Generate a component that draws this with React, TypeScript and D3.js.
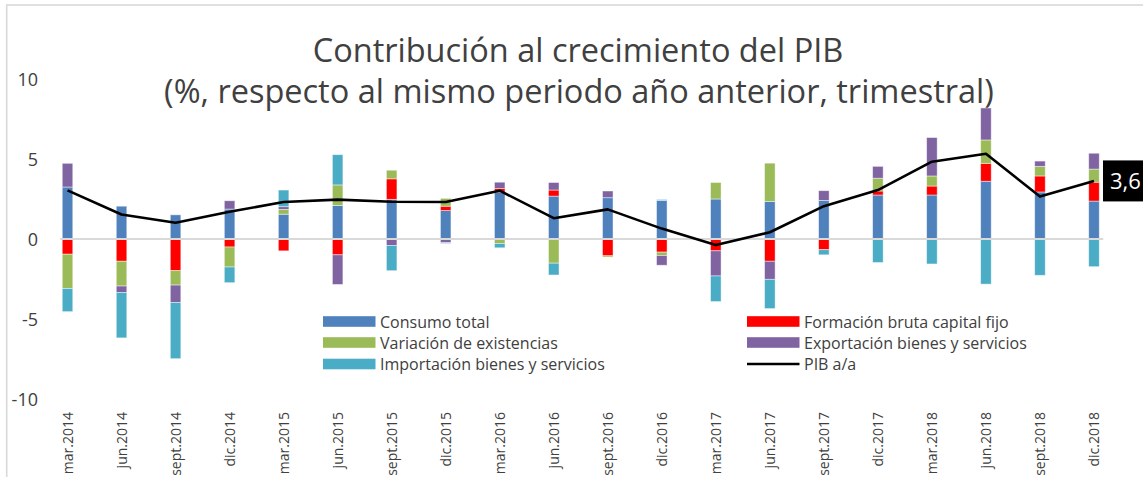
import React from "react";
import * as d3 from "d3";

const categories = [
  "mar.2014", "jun.2014", "sept.2014", "dic.2014",
  "mar.2015", "jun.2015", "sept.2015", "dic.2015",
  "mar.2016", "jun.2016", "sept.2016", "dic.2016",
  "mar.2017", "jun.2017", "sept.2017", "dic.2017",
  "mar.2018", "jun.2018", "sept.2018", "dic.2018",
];

const consumoTotal = [3.25, 2.05, 1.51, 1.87, 1.55, 2.1, 2.48, 1.78, 2.9, 2.68, 2.58, 2.41, 2.5, 2.35, 2.41, 2.75, 2.75, 3.61, 2.94, 2.37];
const formacionBruta = [-0.95, -1.39, -1.98, -0.5, -0.74, -0.99, 1.28, 0.27, 0.25, 0.38, -1.05, -0.82, -0.74, -1.39, -0.67, 0.25, 0.56, 1.12, 1.0, 1.18];
const variacionExistencias = [-2.14, -1.55, -0.9, -1.25, 0.3, 1.28, 0.54, 0.49, -0.28, -1.51, -0.08, -0.21, 1.03, 2.39, 0, 0.8, 0.63, 1.46, 0.6, 0.82];
const exportacion = [1.48, -0.4, -1.09, 0.52, 0.17, -1.85, -0.4, -0.23, 0.4, 0.47, 0.42, -0.61, -1.57, -1.13, 0.61, 0.74, 2.4, 2.0, 0.33, 0.99];
const importacion = [-1.45, -2.84, -3.51, -0.98, 1.04, 1.89, -1.58, -0.05, -0.27, -0.74, 0, 0.06, -1.6, -1.83, -0.32, -1.47, -1.56, -2.82, -2.27, -1.73];
const pibAA = [3.04, 1.53, 1.01, 1.7, 2.31, 2.46, 2.33, 2.31, 3.02, 1.3, 1.85, 0.65, -0.38, 0.42, 2.05, 3.06, 4.83, 5.33, 2.65, 3.63];

const yTicks = [-10, -5, 0, 5, 10];

const seriesKeys = ["consumo", "fbcf", "variacion", "exportacion", "importacion"];
const seriesLabels = [
  "Consumo total",
  "Formación bruta capital fijo",
  "Variación de existencias",
  "Exportación bienes y servicios",
  "Importación bienes y servicios",
];
const seriesColors = ["#4f81bd", "#ff0000", "#9bbb59", "#8064a2", "#4bacc6"];
const lineLabel = "PIB a/a";

const titleLine1 = "Contribución al crecimiento del PIB";
const titleLine2 = "(%, respecto al mismo periodo año anterior, trimestral)";

const FONT = "'Open Sans', 'DejaVu Sans', sans-serif";
const TEXT = "#404040";

export default function App() {
  const W = 1143;
  const H = 477;

  const x = d3
    .scaleBand<string>()
    .domain(categories)
    .range([40.5, 1121])
    .paddingInner(0.805)
    .paddingOuter(0.4025);
  const y = d3.scaleLinear().domain([-10, 10]).range([399, 79]);

  const table = categories.map((c, i) => ({
    cat: c,
    consumo: consumoTotal[i],
    fbcf: formacionBruta[i],
    variacion: variacionExistencias[i],
    exportacion: exportacion[i],
    importacion: importacion[i],
  }));

  const stacked = d3
    .stack<any>()
    .keys(seriesKeys)
    .offset(d3.stackOffsetDiverging)(table);

  const cx = (c: string) => (x(c) as number) + x.bandwidth() / 2;

  const line = d3
    .line<number>()
    .x((_, i) => cx(categories[i]))
    .y((d) => y(d));

  const lastCat = categories[categories.length - 1];
  const lastVal = pibAA[pibAA.length - 1];
  const lx = cx(lastCat);
  const ly = y(lastVal);

  const legendItems = [
    { label: seriesLabels[0], color: seriesColors[0], type: "rect" },
    { label: seriesLabels[1], color: seriesColors[1], type: "rect" },
    { label: seriesLabels[2], color: seriesColors[2], type: "rect" },
    { label: seriesLabels[3], color: seriesColors[3], type: "rect" },
    { label: seriesLabels[4], color: seriesColors[4], type: "rect" },
    { label: lineLabel, color: "#000", type: "line" },
  ];
  const legendColX = [323, 747];
  const legendRowY = [321.5, 342.5, 364];

  return (
    <svg
      width={W}
      height={H}
      style={{ position: "absolute", left: 0, top: 0, background: "#fff" }}
      fontFamily={FONT}
    >
      <rect x={0} y={0} width={W} height={H} fill="#fff" />
      {/* chart border */}
      <rect x={6.7} y={5} width={W + 20} height={H + 20} fill="none" stroke="#d9d9d9" strokeWidth={1.6} />

      {/* title */}
      <text x={578} y={62} textAnchor="middle" fontSize={32.5} fill={TEXT}>
        {titleLine1}
      </text>
      <text x={579} y={103} textAnchor="middle" fontSize={32.5} fill={TEXT}>
        {titleLine2}
      </text>

      {/* y axis labels */}
      {yTicks.map((t) => (
        <text
          key={t}
          x={38}
          y={y(t)}
          textAnchor="end"
          dominantBaseline="central"
          fontSize={18}
          fill={TEXT}
        >
          {t}
        </text>
      ))}

      {/* bars */}
      {stacked.map((s, si) => (
        <g key={s.key} fill={seriesColors[si]}>
          {s.map((d, i) => {
            const y0 = y(d[0]);
            const y1 = y(d[1]);
            const h = Math.abs(y0 - y1);
            if (h < 0.01) return null;
            return (
              <rect
                key={i}
                x={x(categories[i])}
                y={Math.min(y0, y1)}
                width={x.bandwidth()}
                height={h}
                stroke="#ffffff"
                strokeOpacity={0.55}
                strokeWidth={0.8}
              />
            );
          })}
        </g>
      ))}

      {/* zero line */}
      <line
        x1={(x(categories[0]) as number) - 2}
        x2={(x(lastCat) as number) + x.bandwidth() + 4}
        y1={y(0)}
        y2={y(0)}
        stroke="#d9d9d9"
        strokeWidth={1.8}
      />

      {/* PIB line */}
      <path d={line(pibAA) || ""} fill="none" stroke="#000" strokeWidth={2.6} strokeLinejoin="round" />

      {/* data label */}
      <rect x={lx + 9} y={ly - 20.5} width={60} height={41} fill="#000" />
      <text x={lx + 16} y={ly + 8.5} fontSize={22} fill="#fff">
        {d3.format(".1f")(lastVal).replace(".", ",")}
      </text>

      {/* x axis labels */}
      {categories.map((c) => (
        <text
          key={c}
          transform={`translate(${cx(c) + 5},412) rotate(-90)`}
          textAnchor="end"
          fontSize={14}
          fill={TEXT}
        >
          {c}
        </text>
      ))}

      {/* legend */}
      {legendItems.map((it, i) => {
        const col = i % 2;
        const row = Math.floor(i / 2);
        const lx0 = legendColX[col];
        const ly0 = legendRowY[row];
        return (
          <g key={it.label}>
            {it.type === "rect" ? (
              <rect x={lx0} y={ly0 - 5.3} width={52.5} height={10.6} fill={it.color} />
            ) : (
              <line x1={lx0} x2={lx0 + 52.5} y1={ly0} y2={ly0} stroke={it.color} strokeWidth={2.6} />
            )}
            <text x={lx0 + 57} y={ly0} dominantBaseline="central" fontSize={16} fill={TEXT}>
              {it.label}
            </text>
          </g>
        );
      })}
    </svg>
  );
}
